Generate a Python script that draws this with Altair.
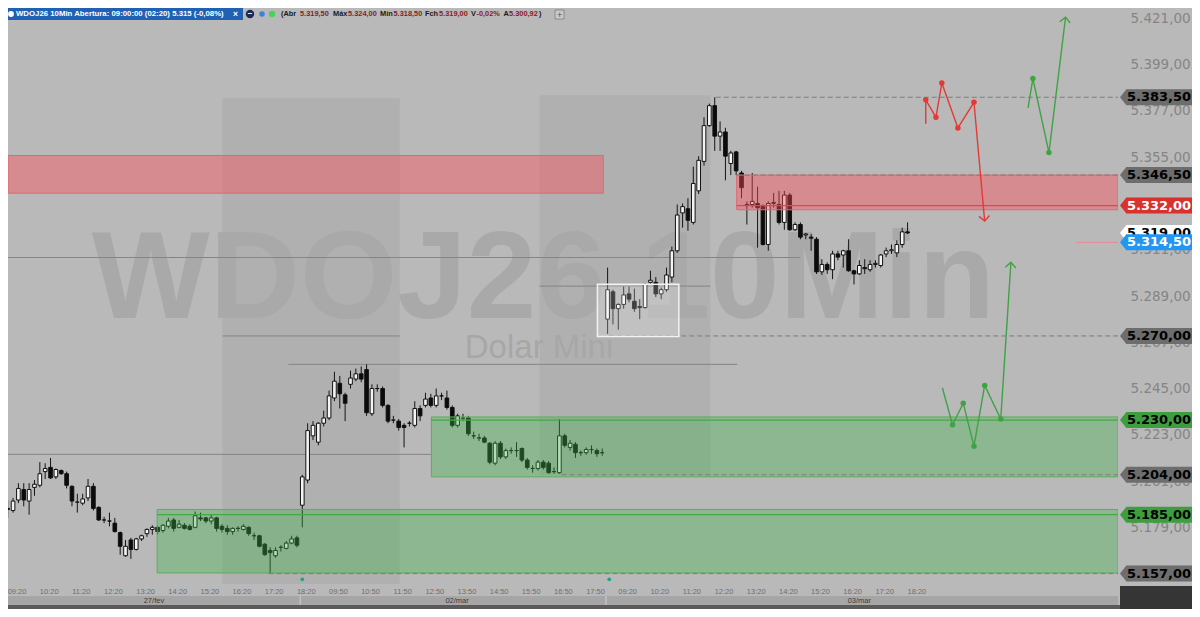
import altair as alt
import pandas as pd
import numpy as np

# ---------------- candle data (10-min bars: 27/fev, 02/mar, 03/mar) ----------------
OPEN = [5192, 5188, 5187, 5192, 5197, 5191.5, 5198, 5199, 5205.5, 5207.5,
        5203, 5206, 5204.5, 5198.5, 5191, 5190.5, 5193, 5198.5, 5188.5, 5182.5,
        5182, 5181, 5176.5, 5165.5, 5173, 5168.5, 5173.5, 5176, 5178, 5179,
        5177.5, 5179.5, 5182.5, 5179, 5180, 5179.5, 5179, 5183.5, 5183.5, 5182,
        5183.5, 5179.5, 5178.5, 5177, 5178.5, 5178, 5179, 5175, 5175, 5171,
        5168, 5165.5, 5169.5, 5169, 5171.5, 5174, 5189.5,
        5201.5, 5222.5, 5219.5, 5228.5, 5231, 5240.5, 5247.5, 5242, 5247, 5249.5,
        5252, 5254, 5233, 5245, 5245, 5237, 5230, 5229.5, 5227.5, 5228.5,
        5227.5, 5235.5, 5237, 5240.5, 5237, 5241.5, 5240.5, 5236, 5227.5, 5231,
        5231, 5222.5, 5221.5, 5221.5, 5219, 5209.5, 5219, 5212.5, 5215.5, 5215.5,
        5216.5, 5211, 5207, 5207, 5210, 5209.5, 5205.5, 5205, 5222.5, 5217,
        5218.5, 5214.5, 5214.5, 5216, 5215.5, 5214.5,
        5278, 5291, 5283, 5285, 5290, 5286.5, 5284, 5283.5, 5295.5, 5295.5,
        5290, 5292, 5298, 5310.5, 5328.5, 5330.5, 5324, 5339, 5353, 5370,
        5379.5, 5365, 5367, 5352, 5357.5, 5347.5, 5332.5, 5332.5, 5333, 5332,
        5313.5, 5333, 5332.5, 5324, 5337, 5320.5, 5323, 5318, 5317, 5316,
        5300.5, 5304, 5301.5, 5309, 5308.5, 5310.5, 5301, 5299.5, 5302.5, 5301.5,
        5304, 5303.5, 5309, 5310.5, 5309.5, 5313.5, 5319.5]
HIGH = [5195.5, 5192, 5193, 5200, 5200, 5200, 5201.5, 5210, 5209.5, 5212,
        5207, 5206.5, 5205.5, 5199, 5195, 5195, 5202, 5200, 5189, 5184,
        5186, 5183.5, 5177, 5173, 5174, 5174, 5175.5, 5178.5, 5180, 5179.5,
        5180.5, 5183.5, 5183.5, 5182.5, 5181, 5180.5, 5186.5, 5186, 5184, 5185,
        5184, 5180.5, 5180, 5179, 5179.5, 5180.5, 5179.5, 5176.5, 5175.5, 5171.5,
        5169.5, 5169.5, 5170.5, 5172.5, 5175, 5175, 5204,
        5228.5, 5229.5, 5229, 5234.5, 5244, 5253, 5251, 5243, 5253.5, 5254.5,
        5255.5, 5256.5, 5247, 5247, 5246, 5237.5, 5232, 5230.5, 5228.5, 5229.5,
        5239, 5237, 5243, 5242.5, 5245, 5243, 5244, 5237, 5233, 5233,
        5232, 5224.5, 5223.5, 5222.5, 5219.5, 5220, 5220, 5216.5, 5217, 5219.5,
        5217, 5212, 5208.5, 5211, 5211, 5210.5, 5207.5, 5230.5, 5223.5, 5220.5,
        5219.5, 5215.5, 5217, 5218, 5216.5, 5216.5,
        5302.5, 5292, 5285.5, 5293.5, 5293.5, 5292.5, 5287.5, 5295, 5301, 5298,
        5293, 5302.5, 5312.5, 5332.5, 5333, 5335.5, 5350.5, 5355.5, 5374, 5380.5,
        5383.5, 5372, 5369, 5358, 5358, 5348.5, 5334, 5347.5, 5341, 5332.5,
        5334, 5338, 5339, 5339, 5338, 5324, 5324, 5319, 5318.5, 5317,
        5306.5, 5305, 5310.5, 5310.5, 5311, 5316, 5301.5, 5306, 5306.5, 5306,
        5306, 5309, 5312, 5313.5, 5315.5, 5321.5, 5324]
LOW = [5183.5, 5183.5, 5186, 5190.5, 5189, 5185, 5194, 5198, 5202, 5202,
       5202, 5204, 5197.5, 5189, 5186, 5189.5, 5191.5, 5187, 5182, 5181,
       5179.5, 5176.5, 5166, 5165, 5164, 5168, 5172.5, 5174.5, 5175.5, 5175.5,
       5176.5, 5178.5, 5177, 5178.5, 5178, 5177.5, 5178.5, 5182, 5181, 5180.5,
       5177, 5176.5, 5175.5, 5175.5, 5177, 5177.5, 5175, 5173, 5169.5, 5165.5,
       5157, 5164.5, 5167.5, 5168.5, 5171, 5169.5, 5179,
       5200, 5220.5, 5218, 5227, 5230, 5239, 5235.5, 5229.5, 5245, 5248.5,
       5248, 5232, 5232, 5243.5, 5236, 5228.5, 5228.5, 5225, 5217, 5227,
       5226.5, 5229.5, 5236, 5236, 5236, 5239.5, 5235, 5226.5, 5226.5, 5229.5,
       5222.5, 5221, 5220, 5219, 5209, 5208.5, 5211.5, 5211.5, 5214, 5212.5,
       5210, 5206.5, 5205, 5206, 5206.5, 5204.5, 5204.5, 5204.5, 5217, 5215.5,
       5212, 5213, 5213.5, 5214, 5212.5, 5213,
       5271, 5275.5, 5273, 5283, 5286, 5281.5, 5278, 5283, 5294.5, 5288.5,
       5287.5, 5291, 5295.5, 5309.5, 5321.5, 5320, 5323, 5337.5, 5351, 5369.5,
       5358, 5358, 5344, 5346.5, 5346.5, 5335.5, 5323, 5331, 5312, 5313,
       5310.5, 5331, 5323, 5320.5, 5320, 5320, 5316, 5316, 5310.5, 5299.5,
       5299, 5299.5, 5297, 5306, 5302.5, 5300.5, 5294.5, 5299, 5299.5, 5300.5,
       5302.5, 5302.5, 5307.5, 5309, 5307.5, 5312, 5318.5]
CLOSE = [5188.5, 5187.5, 5191.5, 5197.5, 5192, 5197, 5199.5, 5204.5, 5207, 5202.5,
         5206.5, 5204.5, 5199, 5191.5, 5191, 5192.5, 5198.5, 5188, 5182.5, 5182.5,
         5182, 5177, 5170, 5170, 5168.5, 5173.5, 5175, 5178, 5179, 5177,
         5180, 5182, 5178.5, 5180.5, 5178.5, 5178, 5184.5, 5183, 5182, 5183.5,
         5178.5, 5178, 5177, 5178.5, 5178.5, 5179.5, 5176, 5175, 5170, 5166,
         5167, 5168, 5169.5, 5171.5, 5173.5, 5170.5, 5203,
         5225, 5227.5, 5228.5, 5231, 5241.5, 5248.5, 5242.5, 5238, 5250, 5252,
         5249.5, 5233.5, 5245, 5245, 5237, 5229.5, 5230, 5226.5, 5226.5, 5228.5,
         5235.5, 5232, 5240, 5237, 5241.5, 5241.5, 5236, 5227.5, 5232, 5231,
         5223.5, 5222.5, 5221.5, 5219.5, 5210, 5219, 5212.5, 5215.5, 5215.5, 5215.5,
         5211, 5207.5, 5207, 5210, 5207.5, 5205, 5205.5, 5222.5, 5218, 5219,
         5214.5, 5214.5, 5216, 5216, 5214, 5214.5,
         5292, 5283, 5285, 5289.5, 5287.5, 5283, 5283.5, 5294.5, 5296.5, 5290,
         5292, 5299, 5310.5, 5327.5, 5331.5, 5325, 5342.5, 5353.5, 5370, 5379.5,
         5365, 5367, 5355.5, 5357, 5348.5, 5340.5, 5332, 5334, 5331, 5313.5,
         5333, 5333.5, 5324, 5337, 5320.5, 5323, 5317, 5318.5, 5316.5, 5300.5,
         5304, 5301.5, 5309, 5307.5, 5310.5, 5301, 5299.5, 5303.5, 5302, 5304,
         5304.5, 5308.5, 5310.5, 5311, 5313.5, 5319.5, 5319]

# ---------------- axis labels ----------------
TIME_POS = [2, 8, 14, 20, 26, 32, 38, 44, 50, 56,
            62, 68, 74, 80, 86, 92, 98, 104, 110,
            116, 122, 128, 134, 140, 146, 152, 158, 164, 170]
TIME_LAB = ["09:20", "10:20", "11:20", "12:20", "13:20", "14:20", "15:20", "16:20", "17:20", "18:20",
            "09:50", "10:50", "11:50", "12:50", "13:50", "14:50", "15:50", "16:50", "17:50",
            "09:20", "10:20", "11:20", "12:20", "13:20", "14:20", "15:20", "16:20", "17:20", "18:20"]
PRICE_TICKS = [5421, 5399, 5377, 5355, 5311, 5289, 5267, 5245, 5223, 5201, 5179]
DAY_LAB = ["27/fev", "02/mar", "03/mar"]
DAY_POS = [28.3, 84.9, 160.0]
DAY_SEP = [55.6, 112.7]

# ---------------- levels / zones / drawings ----------------
TAG_PRICE = [5383.5, 5346.5, 5332.0, 5270.0, 5230.0, 5204.0, 5185.0, 5157.0, 5319.0, 5314.5]
TAG_BG = ["#6d6d6d", "#6d6d6d", "#d8312e", "#6d6d6d", "#3d9e3d", "#6d6d6d", "#3d9e3d", "#6d6d6d", "#ffffff", "#2196f3"]
TAG_FG = ["#000000", "#000000", "#ffffff", "#000000", "#000000", "#000000", "#000000", "#000000", "#000000", "#ffffff"]

ZONE_X1 = [0.0, 137.1, 80.1, 28.9]
ZONE_TOP = [5355.8, 5346.5, 5231.5, 5187.5]
ZONE_BOT = [5337.9, 5330.0, 5203.0, 5157.3]
ZONE_FILL = ["#ff4d5a", "#ff4d5a", "#3cb44b", "#3cb44b"]
ZONE_EDGE = ["#de6a70", "#de6a70", "#5cae5c", "#5cae5c"]
ZONE_X2 = [112.2, None, None, None]

COL_X1 = [41.1, 100.3]
COL_X2 = [74.2, 132.2]
COL_TOP = [5383.1, 5384.5]
COL_BOT = [5152.0, 5203.8]

LINE_X1 = [0.0, 0.0, 53.4, 41.1, 100.3]
LINE_X2 = [148.9, 80.1, 137.2, 74.2, 132.2]
LINE_P = [5307.3, 5213.7, 5256.5, 5270.0, 5293.7]

DASH_X1 = [133.2, 137.1, 113.3, 104.4, 49.7]
DASH_P = [5383.5, 5346.5, 5270.0, 5204.0, 5157.0]

ZLINE_X1 = [137.1, 80.1, 28.9]
ZLINE_P = [5332.0, 5230.0, 5185.0]
ZLINE_C = ["#e04848", "#46a846", "#46a846"]

BOX = dict(x1=111.1, x2=126.3, top=5294.6, bot=5269.7)

RED_X = [172.4, 172.4, 174.3, 175.4, 178.4, 181.4, 183.4]
RED_Y = [5370.9, 5382.3, 5374.0, 5390.3, 5368.9, 5381.1, 5324.6]
GUP_X = [191.5, 192.4, 195.4, 198.5]
GUP_Y = [5378.4, 5392.4, 5357.2, 5421.6]
GDN_X = [175.5, 177.4, 179.4, 181.4, 183.4, 186.4, 188.3]
GDN_Y = [5245.4, 5227.8, 5238.0, 5217.6, 5246.5, 5230.5, 5305.0]

# ---------------- layout ----------------
W, H = 1110, 576
X0, X1 = 1.0575, 208.29
Y0, Y1 = 5152.06, 5425.94
BG = "#b9b9b9"
BODY = 0.34
PX_PER_PT = H / (Y1 - Y0)
TAG_HALF = 8 / PX_PER_PT

xs = alt.Scale(domain=[X0, X1], nice=False, zero=False)
ys = alt.Scale(domain=[Y0, Y1], nice=False, zero=False)

pos_str = ",".join(str(v) for v in TIME_POS)
lab_str = ",".join("'" + s + "'" for s in TIME_LAB)
x_axis = alt.Axis(values=TIME_POS, labelExpr=f"[{lab_str}][indexof([{pos_str}], datum.value)]",
                  title=None, domain=False, ticks=False, grid=False, labelFont="Liberation Sans",
                  labelFontSize=7.5, labelColor="#6e6e6e", labelPadding=3, labelOffset=3.5,
                  labelFlush=False, labelOverlap=False)
y_axis = alt.Axis(orient="right", values=PRICE_TICKS,
                  labelExpr="replace(replace(replace(format(datum.value, ',.2f'), ',', '#'), '.', ','), '#', '.')",
                  title=None, domain=False, ticks=False, grid=False, labelFont="DejaVu Sans",
                  labelFontSize=13.5, labelColor="#858585", labelPadding=12, labelFlush=False,
                  labelOverlap=False, labelBaseline="middle")


def X(f):
    return alt.X(f, type="quantitative", scale=xs, axis=x_axis)


def Y(f):
    return alt.Y(f, type="quantitative", scale=ys, axis=y_axis)


def fmt(p):
    s = f"{p:,.2f}"
    return s.replace(",", "#").replace(".", ",").replace("#", ".")


layers = []

# shaded session columns
cols = pd.DataFrame({"x1": COL_X1, "x2": COL_X2, "t": COL_TOP, "b": COL_BOT})
layers.append(alt.Chart(cols).mark_rect(color="#b0b0b0", clip=True).encode(
    x=X("x1"), x2="x2", y=Y("t"), y2="b"))

# watermark
wm = pd.DataFrame({"x": [101.0, 100.2], "y": [5278.4, 5259.4], "t": ["WDOJ26 10Min", "Dolar Mini"]})
layers.append(alt.Chart(wm.iloc[[0]]).mark_text(font="Liberation Sans", fontSize=125, fontWeight="bold",
                                                 color="#a9a9a9", align="center", baseline="alphabetic").encode(
    x=X("x"), y=Y("y"), text="t:N"))
layers.append(alt.Chart(wm.iloc[[1]]).mark_text(font="Liberation Sans", fontSize=33, color="#a7a7a7",
                                                 align="center", baseline="alphabetic").encode(
    x=X("x"), y=Y("y"), text="t:N"))

# solid grey reference lines
ln = pd.DataFrame({"x1": [max(v, X0) for v in LINE_X1], "x2": LINE_X2, "p": LINE_P})
layers.append(alt.Chart(ln).mark_rule(color="#858585", strokeWidth=1).encode(x=X("x1"), x2="x2", y=Y("p")))

# candles
n = len(OPEN)
cd = pd.DataFrame({"i": np.arange(n), "o": OPEN, "h": HIGH, "l": LOW, "c": CLOSE})
cd["x0"] = cd.i - BODY
cd["x1"] = cd.i + BODY
cd["top"] = cd[["o", "c"]].max(axis=1)
cd["bot"] = cd[["o", "c"]].min(axis=1)
cd["fill"] = np.where(cd.c >= cd.o, "#f4f4f4", "#0b0b0b")
layers.append(alt.Chart(cd).mark_rule(color="#151515", strokeWidth=1, clip=True).encode(
    x=X("i"), y=Y("l"), y2="h"))
layers.append(alt.Chart(cd).mark_rect(stroke="#111111", strokeWidth=1, clip=True).encode(
    x=X("x0"), x2="x1", y=Y("bot"), y2="top", color=alt.Color("fill:N", scale=None)))

# zones (semi-transparent, over candles)
zn = pd.DataFrame({"x1": [max(v, X0) for v in ZONE_X1], "x2": [v if v is not None else X1 for v in ZONE_X2],
                   "t": ZONE_TOP, "b": ZONE_BOT, "f": ZONE_FILL, "e": ZONE_EDGE,
                   "op": [0.42, 0.42, 0.36, 0.36]})
layers.append(alt.Chart(zn).mark_rect(strokeWidth=1, clip=True).encode(
    x=X("x1"), x2="x2", y=Y("b"), y2="t", color=alt.Color("f:N", scale=None),
    stroke=alt.Stroke("e:N", scale=None), fillOpacity=alt.FillOpacity("op:Q", scale=None)))

# zone level lines
zl = pd.DataFrame({"x1": ZLINE_X1, "x2": [X1] * len(ZLINE_X1), "p": ZLINE_P, "c": ZLINE_C})
layers.append(alt.Chart(zl).mark_rule(strokeWidth=1.2).encode(
    x=X("x1"), x2="x2", y=Y("p"), color=alt.Color("c:N", scale=None)))

# dashed levels
dl = pd.DataFrame({"x1": DASH_X1, "x2": [X1] * len(DASH_X1), "p": DASH_P})
layers.append(alt.Chart(dl).mark_rule(color="#7c7c7c", strokeWidth=1, strokeDash=[5, 3]).encode(
    x=X("x1"), x2="x2", y=Y("p")))

# white box
bx = pd.DataFrame([BOX])
layers.append(alt.Chart(bx).mark_rect(fill="#ffffff", fillOpacity=0.22, stroke="#f2f2f2", strokeWidth=1.5).encode(
    x=X("x1"), x2="x2", y=Y("bot"), y2="top"))

# small teal markers at bottom
tm = pd.DataFrame({"x": [56.0, 113.3], "p": [5154.3, 5154.3]})
layers.append(alt.Chart(tm).mark_circle(color="#2a9d8f", size=14, opacity=1).encode(x=X("x"), y=Y("p")))

# hand-drawn projections
dr = pd.concat([
    pd.DataFrame({"x": RED_X, "p": RED_Y, "g": "r", "c": "#e53935", "k": range(len(RED_X))}),
    pd.DataFrame({"x": GUP_X, "p": GUP_Y, "g": "gu", "c": "#3fa345", "k": range(len(GUP_X))}),
    pd.DataFrame({"x": GDN_X, "p": GDN_Y, "g": "gd", "c": "#3fa345", "k": range(len(GDN_X))}),
], ignore_index=True)
layers.append(alt.Chart(dr).mark_line(strokeWidth=1.4).encode(
    x=X("x"), y=Y("p"), detail="g:N", order="k:Q", color=alt.Color("c:N", scale=None)))
dots = pd.concat([dr[dr.g == "r"].iloc[1:-1], dr[dr.g == "gu"].iloc[1:-1], dr[dr.g == "gd"].iloc[1:-1]])
layers.append(alt.Chart(dots).mark_circle(size=30, opacity=1).encode(
    x=X("x"), y=Y("p"), color=alt.Color("c:N", scale=None)))
heads = pd.concat([dr[dr.g == "r"].iloc[[-1]], dr[dr.g == "gu"].iloc[[-1]], dr[dr.g == "gd"].iloc[[-1]]]).copy()
heads["a"] = [175, 7, 4]
layers.append(alt.Chart(heads).mark_point(shape="M -1 1 L 0 0 L 1 1", size=110, filled=False,
                                           strokeWidth=1.4, opacity=1).encode(
    x=X("x"), y=Y("p"), angle=alt.Angle("a:Q", scale=None), stroke=alt.Stroke("c:N", scale=None)))

# price tags on the right
tg = pd.DataFrame({"p": TAG_PRICE, "bg": TAG_BG, "fg": TAG_FG})
tg["t"] = [fmt(v) for v in TAG_PRICE]
tg["p1"] = tg.p - TAG_HALF
tg["p2"] = tg.p + TAG_HALF
for _, r in tg.iterrows():
    one = pd.DataFrame([r])
    layers.append(alt.Chart(one).mark_point(shape="M 0.8 -1 L 0 0 L 0.8 1 Z", size=256, filled=True,
                                             opacity=1, color=r.bg).encode(x=alt.value(1112), y=Y("p")))
    layers.append(alt.Chart(one).mark_rect(color=r.bg).encode(
        x=alt.value(1118), x2=alt.value(1184), y=Y("p1"), y2="p2"))
    layers.append(alt.Chart(one).mark_text(font="DejaVu Sans", fontSize=13, fontWeight="bold", color=r.fg,
                                            align="left", baseline="middle").encode(
        x=alt.value(1119), y=Y("p"), text="t:N"))

# current price small marker
layers.append(alt.Chart(pd.DataFrame({"x1": [200.3], "x2": [X1], "p": [5314.5]})).mark_rule(
    color="#e88a95", strokeWidth=1).encode(x=X("x1"), x2="x2", y=Y("p")))

# bottom time band
layers.append(alt.Chart(pd.DataFrame({"a": [0]})).mark_rect(color="#a6a6a6").encode(
    x=alt.value(0), x2=alt.value(W), y=alt.value(588), y2=alt.value(597)))
layers.append(alt.Chart(pd.DataFrame({"a": [0]})).mark_rect(color="#5a5a5a").encode(
    x=alt.value(0), x2=alt.value(W + 2), y=alt.value(597), y2=alt.value(601)))
layers.append(alt.Chart(pd.DataFrame({"a": [0]})).mark_rect(color="#353535").encode(
    x=alt.value(1112), x2=alt.value(1184), y=alt.value(578), y2=alt.value(601)))
dsep = pd.DataFrame({"x": DAY_SEP})
layers.append(alt.Chart(dsep).mark_rule(color="#d0d0d0", strokeWidth=1).encode(
    x=X("x"), y=alt.value(588), y2=alt.value(597)))
dlab = pd.DataFrame({"x": DAY_POS, "t": DAY_LAB})
layers.append(alt.Chart(dlab).mark_text(font="Liberation Sans", fontSize=7.5, color="#3a3a3a",
                                         baseline="middle").encode(x=X("x"), y=alt.value(592.5), text="t:N"))

# header bar
layers.append(alt.Chart(pd.DataFrame({"a": [0]})).mark_rect(color="#2161b3").encode(
    x=alt.value(0), x2=alt.value(235), y=alt.value(0), y2=alt.value(12)))
layers.append(alt.Chart(pd.DataFrame({"a": [0]})).mark_circle(color="#ffffff", size=34, opacity=1).encode(
    x=alt.value(3), y=alt.value(6)))
HEAD = [("WDOJ26 10Min Abertura: 09:00:00 (02:20)  5.315 (-0,08%)", 8, "#ffffff", 7.8),
        ("\u00d7", 225, "#ffffff", 8.5),
        ("(Abr", 273, "#1a1a1a", 7.4), ("5.319,50", 292, "#8e1b1b", 7.4), ("M\u00e1x", 325, "#1a1a1a", 7.4),
        ("5.324,00", 340, "#8e1b1b", 7.4), ("M\u00edn", 372, "#1a1a1a", 7.4), ("5.318,50", 385.5, "#8e1b1b", 7.4),
        ("Fch", 417, "#1a1a1a", 7.4), ("5.319,00", 431, "#8e1b1b", 7.4), ("V", 463, "#1a1a1a", 7.4),
        ("-0,02%", 468.5, "#8e1b1b", 7.4), ("A", 495.5, "#1a1a1a", 7.4), ("5.300,92", 501, "#8e1b1b", 7.4),
        (")", 531, "#1a1a1a", 7.4)]
for s, px, col, fs in HEAD:
    layers.append(alt.Chart(pd.DataFrame({"t": [s]})).mark_text(
        font="Liberation Sans", fontSize=fs, fontWeight="bold", color=col, align="left",
        baseline="middle").encode(x=alt.value(px), y=alt.value(6), text="t:N"))
ICONS = [(242, "#1b2b57", 70), (254, "#3b82dc", 30), (264, "#45d35a", 40)]
for px, col, sz in ICONS:
    layers.append(alt.Chart(pd.DataFrame({"a": [0]})).mark_circle(color=col, size=sz, opacity=1).encode(
        x=alt.value(px), y=alt.value(6)))
layers.append(alt.Chart(pd.DataFrame({"t": ["\u2212"]})).mark_text(fontSize=8, fontWeight="bold", color="#ffffff",
                                                                   baseline="middle").encode(
    x=alt.value(242), y=alt.value(6), text="t:N"))
layers.append(alt.Chart(pd.DataFrame({"a": [0]})).mark_rect(fill="#c9c9c9", stroke="#8a8a8a").encode(
    x=alt.value(547), x2=alt.value(556), y=alt.value(2), y2=alt.value(11)))
layers.append(alt.Chart(pd.DataFrame({"t": ["+"]})).mark_text(fontSize=9, color="#555555", baseline="middle").encode(
    x=alt.value(551.5), y=alt.value(6.5), text="t:N"))

chart = alt.layer(*layers).properties(
    width=W, height=H,
    autosize=alt.AutoSizeParams(type="none"),
    padding={"left": 0, "top": 0, "right": 74, "bottom": 25},
).configure(background=BG).configure_view(stroke=None)

chart.save("out.html", embed_options={"renderer": "svg", "actions": False})
